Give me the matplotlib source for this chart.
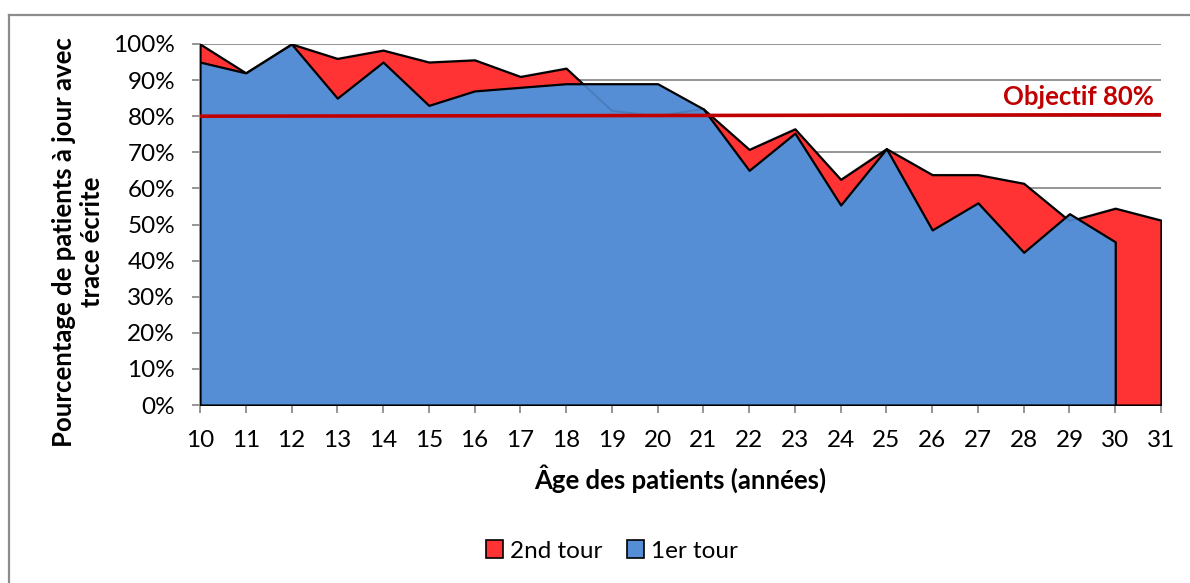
import numpy as np
import matplotlib
matplotlib.use("Agg")
from matplotlib import pyplot as plt
from matplotlib.patches import Patch
from matplotlib.lines import Line2D
from matplotlib.ticker import PercentFormatter

plt.rcParams['font.family'] = ['Lato', 'DejaVu Sans']

# Data (percentages)
ages = list(range(10, 32))
premier_tour = [95, 92, 100, 85, 95, 83, 87, 88, 89, 89, 89, 82, 65, 75.3,
                55.4, 71, 48.5, 56, 42.3, 53, 45.2]
second_tour = [100, 92, 100, 96, 98.3, 95, 95.6, 91, 93.3, 81.5, 80, 82,
               70.8, 76.5, 62.5, 71, 63.8, 63.8, 61.4, 51, 54.5, 51.2]
objectif_x = [10, 31]
objectif_y = [80, 80.4]

RED = "#FF3333"
BLUE = "#558ED5"
DARKRED = "#C00000"
GRID = "#8C8C8C"

fig = plt.figure(figsize=(11.9, 5.83), dpi=100)
ax = fig.add_axes([200 / 1190, 1 - 405 / 583, 961 / 1190, 361 / 583])

x2 = np.array(ages[:len(second_tour)])
x1 = np.array(ages[:len(premier_tour)])
y2 = np.array(second_tour) / 100
y1 = np.array(premier_tour) / 100

# 2nd tour behind, 1er tour in front (overlapping areas, not stacked)
ax.fill_between(x2, y2, 0, facecolor=RED, edgecolor="black", linewidth=1.6, zorder=2)
ax.fill_between(x1, y1, 0, facecolor=BLUE, edgecolor="black", linewidth=1.6, zorder=3)
# faint outline of the 2nd tour showing through the blue area
ax.plot(x2, y2, color="black", linewidth=1.4, alpha=0.12, zorder=4)

# objective line
ax.plot(objectif_x, np.array(objectif_y) / 100, color=DARKRED, linewidth=2.6, zorder=5)
ax.text(30.85, 0.853, "Objectif 80%", color=DARKRED, fontsize=18.5, fontweight="bold",
        ha="right", va="center", zorder=6)

ax.set_xlim(10, 31)
ax.set_ylim(0, 1)
ax.set_xticks(ages)
ax.set_yticks(np.arange(0, 1.01, 0.1))
ax.yaxis.set_major_formatter(PercentFormatter(1.0, decimals=0))
ax.tick_params(axis="both", labelsize=17.5, color=GRID, length=6, width=1.3)
ax.tick_params(axis="y", pad=12)
ax.tick_params(axis="x", pad=12)

ax.grid(axis="y", color=GRID, linewidth=1.3, zorder=0)
ax.set_axisbelow(True)
for s in ["top", "right"]:
    ax.spines[s].set_visible(False)
for s in ["left", "bottom"]:
    ax.spines[s].set_color(GRID)
    ax.spines[s].set_linewidth(1.3)
    ax.spines[s].set_zorder(1)

fig.text(78 / 1190, 1 - 242 / 583, "Pourcentage de patients à jour avec\ntrace écrite",
         fontsize=18.5, fontweight="bold", rotation=90, ha="center", va="center",
         multialignment="center", linespacing=1.15)
fig.text(680 / 1190, 1 - 479 / 583, "Âge des patients (années)", fontsize=18.5,
         fontweight="bold", ha="center", va="center")

handles = [Patch(facecolor=RED, edgecolor="black", linewidth=1.2, label="2nd tour"),
           Patch(facecolor=BLUE, edgecolor="black", linewidth=1.2, label="1er tour")]
fig.legend(handles=handles, loc="center", bbox_to_anchor=(612 / 1190, 1 - 551 / 583),
           ncol=2, frameon=False, fontsize=17.5, handlelength=0.7, handleheight=0.7,
           handletextpad=0.3, columnspacing=1.0)

# chart border (left and top only are visible)
fig.add_artist(Line2D([8.5 / 1190, 8.5 / 1190], [0, 1 - 14.5 / 583], color="#8C8C8C", linewidth=1.6))
fig.add_artist(Line2D([8.5 / 1190, 1], [1 - 14.5 / 583, 1 - 14.5 / 583], color="#8C8C8C", linewidth=1.6))

fig.savefig("out.png", dpi=100)
